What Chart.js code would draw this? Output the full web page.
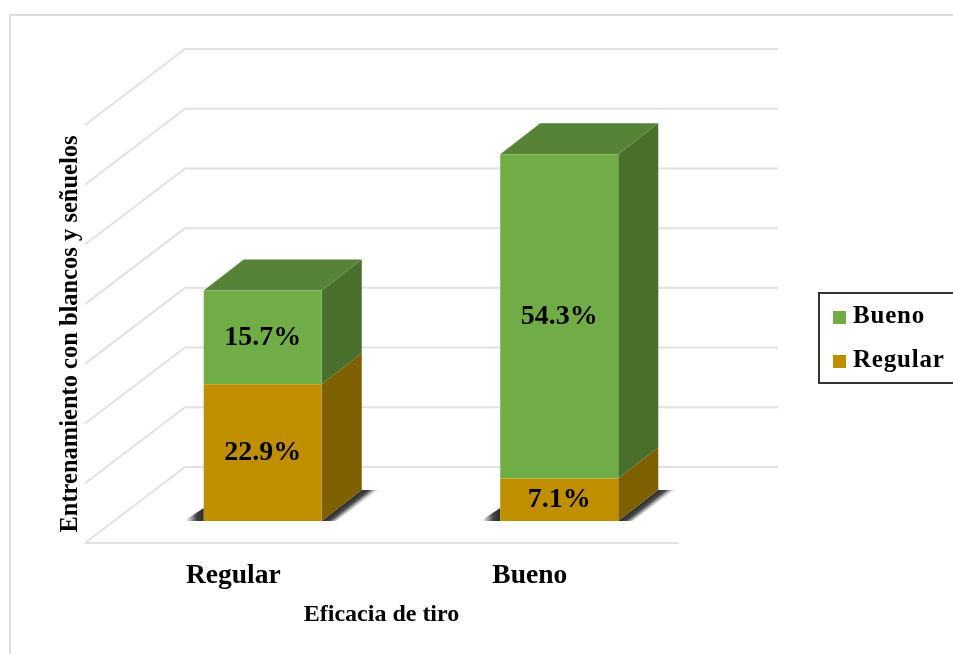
<!DOCTYPE html>
<html><head><meta charset="utf-8">
<style>html,body{margin:0;padding:0;background:#fff}#wrap{width:953px;height:654px}canvas{display:block}</style>
<script src="https://cdn.jsdelivr.net/npm/chart.js@4"></script></head>
<body><div id="wrap"><canvas id="c" width="953" height="654"></canvas></div>
<script>
const categories = ["Regular", "Bueno"];
const regularValues = [22.9, 7.1];
const buenoValues = [15.7, 54.3];
const seriesNames = ["Regular", "Bueno"];
const xTitle = "Eficacia de tiro";
const yTitle = "Entrenamiento con blancos y señuelos";

const SERIF = '"Liberation Serif"';
const FACE = ["#BF8F00", "#70AD47"];
const SIDE = ["#7F6000", "#4A6F2D"];
const TOP = ["#8F6B00", "#578339"];
const GRID = "#e2e2e2";
// oblique projection of the 3D box
const WALL = {dx: 100, dy: -76};
const BAR_SHIFT = {dx: 29.5, dy: -22};
const DEPTH = {dx: 40, dy: -31};

function poly(ctx, pts, fill){
  ctx.beginPath();
  pts.forEach((p,i)=> i ? ctx.lineTo(p[0],p[1]) : ctx.moveTo(p[0],p[1]));
  ctx.closePath(); ctx.fillStyle = fill; ctx.fill();
}

const scene = {
  id: "scene",
  beforeDraw(chart){
    const {ctx, width, height} = chart;
    ctx.save();
    ctx.fillStyle = "#fff"; ctx.fillRect(0,0,width,height);
    ctx.strokeStyle = "#dddddd"; ctx.lineWidth = 2;
    ctx.beginPath(); ctx.moveTo(10,height); ctx.lineTo(10,15); ctx.lineTo(width,15); ctx.stroke();
    ctx.restore();
  },
  beforeDatasetsDraw(chart){
    const {ctx, chartArea:a, scales:{y}} = chart;
    ctx.save();
    ctx.strokeStyle = GRID; ctx.lineWidth = 2; ctx.lineJoin = "round";
    y.ticks.forEach(t=>{
      const p = y.getPixelForValue(t.value);
      ctx.beginPath();
      ctx.moveTo(a.left,p);
      ctx.lineTo(a.left+WALL.dx,p+WALL.dy);
      ctx.lineTo(a.right+WALL.dx,p+WALL.dy);
      ctx.stroke();
    });
    ctx.beginPath(); ctx.moveTo(a.left,a.bottom); ctx.lineTo(a.right,a.bottom); ctx.stroke();
    ctx.restore();

    ctx.save();
    ctx.translate(BAR_SHIFT.dx, BAR_SHIFT.dy);
    chart.data.datasets.forEach((ds,di)=>{
      if(di!==0) return;
      chart.getDatasetMeta(di).data.forEach(el=>{
        const l = el.x-el.width/2, r = el.x+el.width/2;
        let g = ctx.createLinearGradient(l-18,0,l,0);
        g.addColorStop(0,"rgba(60,60,60,0)"); g.addColorStop(.6,"rgba(50,50,50,.9)"); g.addColorStop(1,"rgba(40,40,40,1)");
        poly(ctx,[[l-20,el.base],[l,el.base-13],[l,el.base]],g);
        const mx = r+20, my = el.base-15.5;
        g = ctx.createLinearGradient(mx,my,mx+5.8,my+7.5);
        g.addColorStop(0,"rgba(40,40,40,1)"); g.addColorStop(.5,"rgba(55,55,55,.9)"); g.addColorStop(1,"rgba(90,90,90,.08)");
        poly(ctx,[[r,el.base],[r+DEPTH.dx,el.base+DEPTH.dy],[r+DEPTH.dx+18,el.base+DEPTH.dy],[r+14,el.base]],g);
      });
    });
    chart.data.datasets.forEach((ds,di)=>{
      chart.getDatasetMeta(di).data.forEach(el=>{
        const l = el.x-el.width/2, r = el.x+el.width/2;
        poly(ctx,[[r,el.y],[r+DEPTH.dx,el.y+DEPTH.dy],[r+DEPTH.dx,el.base+DEPTH.dy],[r,el.base]],SIDE[di]);
        if(di===chart.data.datasets.length-1)
          poly(ctx,[[l,el.y],[l+DEPTH.dx,el.y+DEPTH.dy],[r+DEPTH.dx,el.y+DEPTH.dy],[r,el.y]],TOP[di]);
      });
    });
    // bars themselves are drawn by Chart.js in the same shifted plane
  },
  afterDatasetsDraw(chart){
    const {ctx} = chart;
    ctx.font = 'bold 28px '+SERIF;
    ctx.fillStyle = "#000"; ctx.textAlign = "center"; ctx.textBaseline = "middle";
    chart.data.datasets.forEach((ds,di)=>{
      chart.getDatasetMeta(di).data.forEach((el,i)=>{
        ctx.fillText(ds.data[i].toFixed(1)+"%", el.x, (el.y+el.base)/2);
      });
    });
    ctx.restore();

    // legend (last series first)
    ctx.save();
    ctx.strokeStyle = "#333"; ctx.lineWidth = 2;
    ctx.strokeRect(819,293,140,90);
    ctx.font = 'bold 25px '+SERIF; ctx.textBaseline = "middle"; ctx.textAlign = "left";
    if("letterSpacing" in ctx) ctx.letterSpacing = "0.8px";
    const order = chart.data.datasets.map((d,i)=>i).reverse();
    order.forEach((di,k)=>{
      const cy = 317+k*44;
      ctx.fillStyle = FACE[di]; ctx.fillRect(833,cy-6,13,13);
      ctx.fillStyle = "#000"; ctx.fillText(chart.data.datasets[di].label,853,cy);
    });
    ctx.restore();
  }
};

new Chart(document.getElementById("c"),{
  type:"bar",
  data:{labels:categories,datasets:[
    {label:seriesNames[0],data:regularValues,backgroundColor:FACE[0],barPercentage:0.4975,categoryPercentage:0.8},
    {label:seriesNames[1],data:buenoValues,backgroundColor:FACE[1],barPercentage:0.4975,categoryPercentage:0.8}
  ]},
  options:{
    responsive:false,animation:false,
    layout:{padding:{left:56,right:275,top:125,bottom:25}},
    plugins:{legend:{display:false},tooltip:{enabled:false},title:{display:false}},
    scales:{
      x:{stacked:true,grid:{display:false},border:{display:false},
        afterFit(s){s.height=86;},
        ticks:{color:"#000",padding:8,maxRotation:0,font:{family:SERIF,size:27.5,weight:"bold"}},
        title:{display:true,text:xTitle,color:"#000",padding:{top:0,bottom:0},font:{family:SERIF,size:24,weight:"bold"}}},
      y:{stacked:true,min:0,max:70,grid:{display:false},border:{display:false},
        afterFit(s){s.width=29;},
        ticks:{display:false,stepSize:10},
        title:{display:true,text:yTitle,color:"#000",padding:0,font:{family:SERIF,size:24.5,weight:"bold"}}}
    }
  },
  plugins:[scene]
});
</script></body></html>
